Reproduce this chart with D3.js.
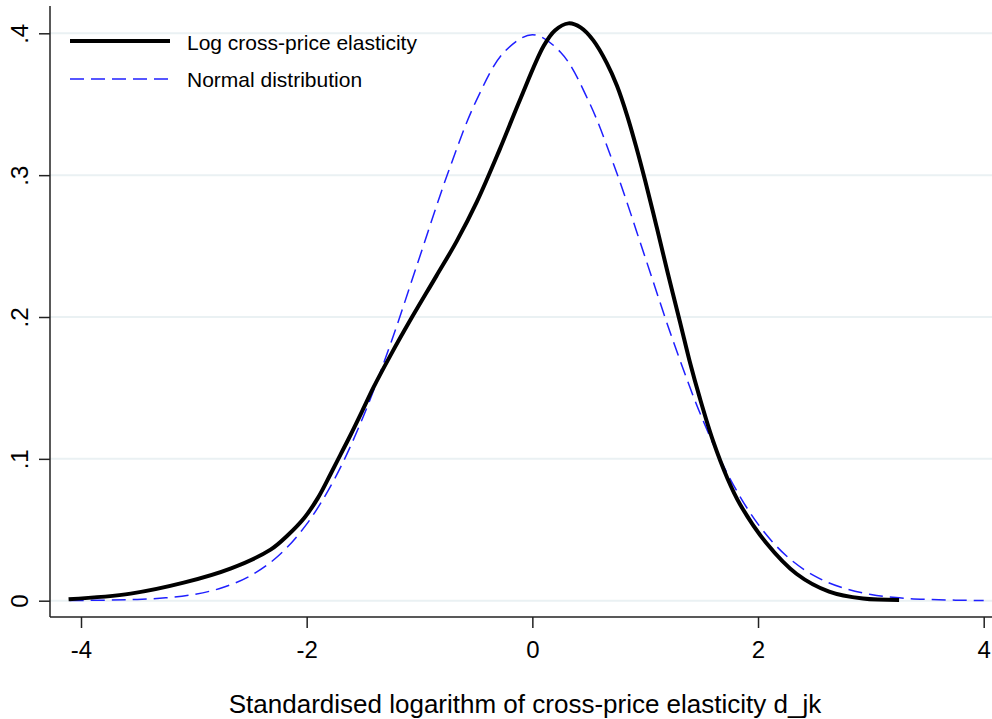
<!DOCTYPE html>
<html>
<head>
<meta charset="utf-8">
<script src="https://cdn.jsdelivr.net/npm/d3@7"></script>
<style>
  body { margin: 0; background: #fff; }
  svg { display: block; font-family: "Liberation Sans", Arial, sans-serif; }
</style>
</head>
<body>
<div class="chart"></div>
<script>
var svgWidth = 992;
var svgHeight = 719;

// values
var xTicks = [-4, -2, 0, 2, 4];
var yTicks = [0, 0.1, 0.2, 0.3, 0.4];
var yTickLabels = ["0", ".1", ".2", ".3", ".4"];

// kernel density of the log cross-price elasticity
var kdX = [-4.11, -3.56, -3.09, -2.67, -2.32, -2.17, -2.02, -1.90, -1.79, -1.70,
  -1.61, -1.50, -1.41, -1.25, -1.08, -0.85, -0.67, -0.49, -0.29, -0.11,
  0.10, 0.20, 0.32, 0.43, 0.54, 0.66, 0.75, 0.84, 0.92, 1.00,
  1.10, 1.20, 1.31, 1.40, 1.48, 1.60, 1.73, 1.84, 2.07, 2.34,
  2.63, 2.93, 3.25];
var kdY = [0.001, 0.005, 0.0127, 0.0228, 0.036, 0.046, 0.0585, 0.0725, 0.089, 0.103,
  0.117, 0.135, 0.150, 0.174, 0.198, 0.229, 0.2535, 0.2815, 0.318, 0.353,
  0.391, 0.402, 0.407, 0.404, 0.395, 0.379, 0.363, 0.342, 0.320, 0.296,
  0.264, 0.231, 0.196, 0.167, 0.144, 0.113, 0.086, 0.068, 0.041, 0.019,
  0.0064, 0.0015, 0.0005];

// normal reference curve
var nX = [-4.1, -3.75, -3.5, -3.25, -3.0, -2.75, -2.5, -2.25, -2.0, -1.75, -1.5, -1.25,
  -1.0, -0.75, -0.5, -0.25, 0, 0.25, 0.5, 0.75, 1.0, 1.25, 1.5, 1.75,
  2.0, 2.25, 2.5, 2.75, 3.0, 3.25, 3.5, 3.75, 4.0];
var nY = [0.0001, 0.0004, 0.0009, 0.002, 0.0044, 0.0091, 0.0175, 0.0317, 0.054, 0.0863, 0.1295, 0.1826,
  0.242, 0.3011, 0.352, 0.3867, 0.399, 0.3867, 0.352, 0.3011, 0.242, 0.1826, 0.1295, 0.0863,
  0.054, 0.0317, 0.0175, 0.0091, 0.0044, 0.002, 0.0009, 0.0004, 0.0001];

var legendLabels = ["Log cross-price elasticity", "Normal distribution"];
var xTitle = "Standardised logarithm of cross-price elasticity d_jk";

var plotLeft = 50, plotRight = 992, plotTop = 6, axisY = 617;

var svg = d3.select(".chart")
  .append("svg")
  .attr("width", svgWidth)
  .attr("height", svgHeight);

var x = d3.scaleLinear().domain([-4, 4]).range([81, 983.7]);
var y = d3.scaleLinear().domain([0, 0.4]).range([600.7, 33.3]);

// gridlines
svg.append("g")
  .selectAll("line")
  .data(yTicks)
  .enter()
  .append("line")
  .attr("x1", plotLeft)
  .attr("x2", plotRight)
  .attr("y1", d => y(d))
  .attr("y2", d => y(d))
  .attr("stroke", "#eaf1f3")
  .attr("stroke-width", 2);

// x axis
var xAxis = svg.append("g")
  .attr("transform", `translate(0, ${axisY})`)
  .call(d3.axisBottom(x).tickValues(xTicks).tickSize(11).tickFormat(d3.format("d")));
xAxis.select(".domain").remove();
xAxis.append("line")
  .attr("x1", plotLeft).attr("x2", plotRight)
  .attr("stroke", "#222").attr("stroke-width", 1.5);
xAxis.selectAll(".tick line").attr("stroke", "#222").attr("stroke-width", 1.5);
xAxis.selectAll(".tick text")
  .attr("fill", "#000")
  .style("font-size", "24px")
  .attr("y", 41)
  .attr("dy", 0)
  .text(d => d < 0 ? "-" + Math.abs(d) : d);

// y axis
var yAxis = svg.append("g")
  .attr("transform", `translate(${plotLeft}, 0)`)
  .call(d3.axisLeft(y).tickValues(yTicks).tickSize(11).tickFormat((d, i) => yTickLabels[i]));
yAxis.select(".domain").remove();
yAxis.append("line")
  .attr("y1", plotTop).attr("y2", axisY)
  .attr("stroke", "#222").attr("stroke-width", 1.5);
yAxis.selectAll(".tick line").attr("stroke", "#222").attr("stroke-width", 1.5);
yAxis.selectAll(".tick text")
  .attr("fill", "#000")
  .style("font-size", "24px")
  .attr("x", 0)
  .attr("dy", 0)
  .attr("text-anchor", "middle")
  .attr("transform", "translate(-22, 0) rotate(-90)");

// curves
var line = d3.line()
  .x(d => x(d[0]))
  .y(d => y(d[1]))
  .curve(d3.curveCatmullRom.alpha(0.5));

svg.append("path")
  .datum(nX.map((v, i) => [v, nY[i]]))
  .attr("d", line)
  .attr("fill", "none")
  .attr("stroke", "#1f1fff")
  .attr("stroke-width", 1.5)
  .attr("stroke-dasharray", "14,7");

svg.append("path")
  .datum(kdX.map((v, i) => [v, kdY[i]]))
  .attr("d", line)
  .attr("fill", "none")
  .attr("stroke", "#000")
  .attr("stroke-width", 4)
  .attr("stroke-linejoin", "round");

// legend
var legend = svg.append("g");
legend.append("line")
  .attr("x1", 70).attr("x2", 170).attr("y1", 41).attr("y2", 41)
  .attr("stroke", "#000").attr("stroke-width", 4);
legend.append("line")
  .attr("x1", 70).attr("x2", 170).attr("y1", 79).attr("y2", 79)
  .attr("stroke", "#1f1fff").attr("stroke-width", 1.5)
  .attr("stroke-dasharray", "14,7");
legend.selectAll("text")
  .data(legendLabels)
  .enter()
  .append("text")
  .attr("x", 187)
  .attr("y", (d, i) => 50 + i * 37)
  .style("font-size", "21px")
  .text(d => d);

// x title
svg.append("text")
  .attr("x", 525)
  .attr("y", 713)
  .attr("text-anchor", "middle")
  .style("font-size", "26px")
  .text(xTitle);
</script>
</body>
</html>
